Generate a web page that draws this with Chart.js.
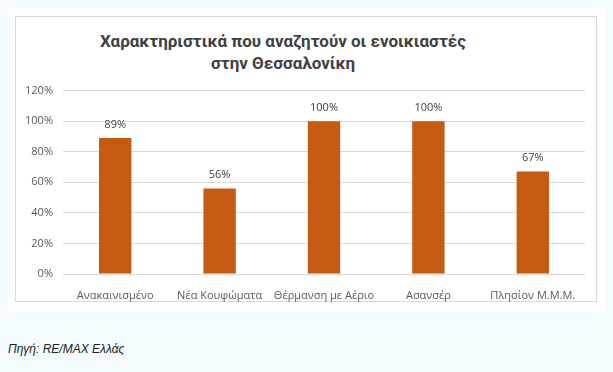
<!DOCTYPE html>
<html>
<head>
<meta charset="utf-8">
<script src="https://cdn.jsdelivr.net/npm/chart.js@4/dist/chart.umd.min.js"></script>
<style>
  body { margin: 0; width: 613px; height: 372px; background: #f3fbfe; position: relative; overflow: hidden; font-family: "Open Sans", sans-serif; }
  #outer { position: absolute; left: 8px; top: 8px; width: 597px; height: 304px; background: #fff; }
  #frame { position: absolute; left: 15px; top: 16px; width: 582px; height: 286px; border: 1px solid #d9d9d9; box-sizing: border-box; }
  #title { position: absolute; left: 83px; top: 30px; width: 400px; text-align: center; white-space: nowrap; font-family: Roboto, sans-serif; font-weight: bold; font-size: 17px; line-height: 22px; color: #404040; }
  #wrap { position: absolute; left: 16px; top: 74px; width: 581px; height: 228px; }
  #source { position: absolute; left: 8px; top: 342px; font-family: Arial, "Liberation Sans", sans-serif; font-style: italic; font-size: 12px; color: #222; }
</style>
</head>
<body>
<div id="outer"></div>
<div id="frame"></div>
<div id="title">Χαρακτηριστικά που αναζητούν οι ενοικιαστές<br>στην Θεσσαλονίκη</div>
<div id="wrap"><canvas id="canvas"></canvas></div>
<div id="source">Πηγή: RE/MAX Ελλάς</div>
<script>
const categories = ["Ανακαινισμένο", "Νέα Κουφώματα", "Θέρμανση με Αέριο", "Ασανσέρ", "Πλησίον Μ.Μ.Μ."];
const values = [89, 56, 100, 100, 67];

const barLabels = {
  id: "barLabels",
  afterDatasetsDraw(chart) {
    const ctx = chart.ctx;
    const meta = chart.getDatasetMeta(0);
    ctx.save();
    ctx.font = "11px 'Open Sans', sans-serif";
    ctx.fillStyle = "#404040";
    ctx.textAlign = "center";
    ctx.textBaseline = "bottom";
    meta.data.forEach((bar, i) => {
      ctx.fillText(values[i] + "%", bar.x, bar.y - 8);
    });
    ctx.restore();
  }
};

let ctx = document.getElementById("canvas").getContext("2d");

let chart = new Chart(ctx, {
  type: "bar",
  data: {
    labels: categories,
    datasets: [
      {
        data: values,
        backgroundColor: "#c55a11",
        barPercentage: 0.31,
        categoryPercentage: 1
      }
    ]
  },
  options: {
    responsive: true,
    maintainAspectRatio: false,
    animation: false,
    layout: { padding: { top: 4, right: 12, bottom: 0, left: 0 } },
    plugins: {
      legend: { display: false },
      tooltip: { enabled: false }
    },
    scales: {
      x: {
        grid: { display: false },
        border: { display: false },
        ticks: { color: "#595959", font: { family: "'Open Sans', sans-serif", size: 11 }, padding: 7, maxRotation: 0 },
        afterFit: scale => { scale.height = 28; }
      },
      y: {
        min: 0,
        max: 120,
        ticks: {
          stepSize: 20,
          color: "#595959",
          font: { family: "'Open Sans', sans-serif", size: 11 },
          padding: 10,
          callback: v => v + "%"
        },
        grid: { color: "#d9d9d9", drawTicks: false },
        border: { display: false },
        afterFit: scale => { scale.width = 47; }
      }
    }
  },
  plugins: [barLabels]
});
</script>
</body>
</html>
